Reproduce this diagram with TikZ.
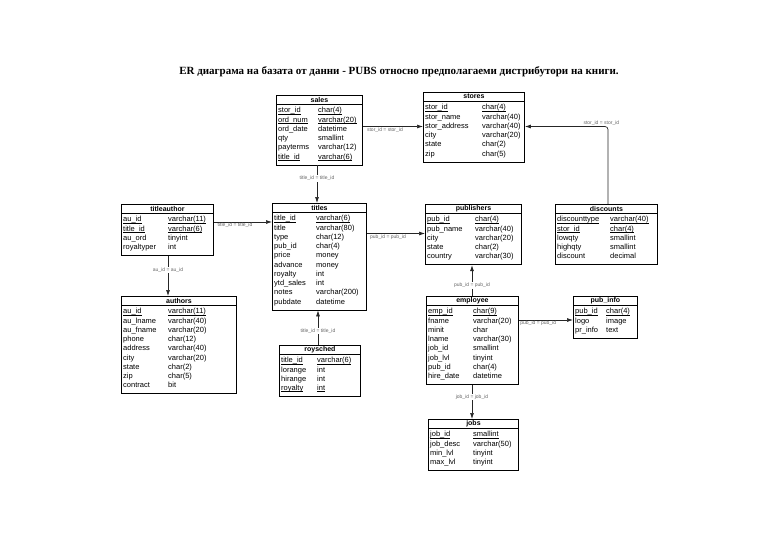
\documentclass[tikz,border=0pt]{standalone}
\usepackage{fontspec}
\setmainfont{Liberation Sans}
\newfontfamily\titlefont{Liberation Serif}
\usetikzlibrary{calc,arrows.meta}
\tikzset{
  tbl/.style={draw=black, line width=0.9pt, fill=white, inner sep=0pt, rectangle},
  hdr/.style={font=\fontsize{7}{8}\selectfont\bfseries, inner sep=0pt},
  rowtxt/.style={font=\fontsize{7.5}{8}\selectfont, inner sep=0pt, anchor=base west},
  tblline/.style={line width=0.7pt},
  conn/.style={draw=black!85, line width=0.7pt, -{Latex[length=6pt,width=4pt]}},
  rlab/.style={font=\fontsize{5}{6}\selectfont, text=black!60, inner sep=1pt},
  vlab/.style={rlab, fill=white},
}
\newcommand\pkul[1]{\setbox0\hbox{#1}\rlap{\rule[-1.4pt]{\wd0}{0.5pt}}\box0}
\newcommand\ertable[8]{%
  \pgfmathsetmacro\erh{14+9.25*#5}%
  \node[tbl, minimum width=#4pt, minimum height=\erh pt, anchor=north west] (#1) at (#2,#3) {};
  \node[hdr] (#1-h) at ($(#1.north)+(0,-4.6pt)$) {#7};
  \draw[tblline] ($(#1.north west)+(0,-9pt)$) -- ($(#1.north east)+(0,-9pt)$);
  \foreach \nm/\ty/\pk [count=\i] in {#8} {
    \node[rowtxt] (#1-n\i) at ($(#1.north west)+(2pt,{-(17.8+9.25*(\i-1))*1pt})$)
      {\ifnum\pk=1 \pkul{\nm}\else\nm\fi};
    \node[rowtxt] (#1-t\i) at ($(#1.north west)+(#6pt,{-(17.8+9.25*(\i-1))*1pt})$)
      {\ifnum\pk=1 \pkul{\ty}\else\ty\fi};
  }
}
\begin{document}
\begin{tikzpicture}[x=1pt,y=-1pt]
\fill[white] (0,0) rectangle (768,543);
\useasboundingbox (0,0) rectangle (768,543);

\node[font=\titlefont\bfseries\fontsize{11}{13}\selectfont, inner sep=0pt] (title) at (399,72)
  {ER диаграма на базата от данни - PUBS относно предполагаеми дистрибутори на книги.};

\ertable{sales}{276}{95}{86}{6}{42}{sales}{stor\_id/char(4)/1, ord\_num/varchar(20)/1, ord\_date/datetime/0, qty/smallint/0, payterms/varchar(12)/0, title\_id/varchar(6)/1}
\ertable{stores}{423}{92}{101}{6}{59}{stores}{stor\_id/char(4)/1, stor\_name/varchar(40)/0, stor\_address/varchar(40)/0, city/varchar(20)/0, state/char(2)/0, zip/char(5)/0}
\ertable{titleauthor}{121}{204}{92}{4}{47}{titleauthor}{au\_id/varchar(11)/1, title\_id/varchar(6)/1, au\_ord/tinyint/0, royaltyper/int/0}
\ertable{titles}{272}{203}{94}{10}{44}{titles}{title\_id/varchar(6)/1, title/varchar(80)/0, type/char(12)/0, pub\_id/char(4)/0, price/money/0, advance/money/0, royalty/int/0, ytd\_sales/int/0, notes/varchar(200)/0, pubdate/datetime/0}
\ertable{publishers}{425}{204}{96}{5}{50}{publishers}{pub\_id/char(4)/1, pub\_name/varchar(40)/0, city/varchar(20)/0, state/char(2)/0, country/varchar(30)/0}
\ertable{discounts}{555}{204}{102}{5}{55}{discounts}{discounttype/varchar(40)/1, stor\_id/char(4)/1, lowqty/smallint/0, highqty/smallint/0, discount/decimal/0}
\ertable{authors}{121}{296}{115}{9}{47}{authors}{au\_id/varchar(11)/1, au\_lname/varchar(40)/0, au\_fname/varchar(20)/0, phone/char(12)/0, address/varchar(40)/0, city/varchar(20)/0, state/char(2)/0, zip/char(5)/0, contract/bit/0}
\ertable{roysched}{279}{345}{81}{4}{38}{roysched}{title\_id/varchar(6)/1, lorange/int/0, hirange/int/0, royalty/int/1}
\ertable{employee}{426}{296}{92}{8}{47}{employee}{emp\_id/char(9)/1, fname/varchar(20)/0, minit/char/0, lname/varchar(30)/0, job\_id/smallint/0, job\_lvl/tinyint/0, pub\_id/char(4)/0, hire\_date/datetime/0}
\ertable{pubinfo}{573}{296}{64}{3}{33}{pub\_info}{pub\_id/char(4)/1, logo/image/0, pr\_info/text/0}
\ertable{jobs}{428}{419}{90}{4}{45}{jobs}{job\_id/smallint/1, job\_desc/varchar(50)/0, min\_lvl/tinyint/0, max\_lvl/tinyint/0}

% connectors
\draw[conn] (sales.east |- 0,126.5) -- node[rlab, below, xshift=-5pt, pos=0.45] {stor\_id = stor\_id} (stores.west |- 0,126.5);
\coordinate (dcorner) at (608,126.5);
\draw[conn, rounded corners=3pt] (discounts.north -| dcorner) -- (dcorner) -- node[rlab, above, pos=0.08] {stor\_id = stor\_id} (stores.east |- dcorner);
\draw[conn] (sales.south -| 317,0) -- node[vlab, pos=0.35] {title\_id = title\_id} (titles.north -| 317,0);
\draw[conn] (titleauthor.east |- 0,222) -- node[rlab, below, xshift=-5pt, pos=0.45] {title\_id = title\_id} (titles.west |- 0,222);
\draw[conn] (titleauthor.south -| 168,0) -- node[vlab, pos=0.35] {au\_id = au\_id} (authors.north -| 168,0);
\draw[conn] (titles.east |- 0,233.5) -- node[rlab, below, xshift=-5pt, pos=0.45] {pub\_id = pub\_id} (publishers.west |- 0,233.5);
\draw[conn] (roysched.north -| 318,0) -- node[vlab, pos=0.4] {title\_id = title\_id} (titles.south -| 318,0);
\draw[conn] (employee.north -| 472,0) -- node[vlab, pos=0.35] {pub\_id = pub\_id} (publishers.south -| 472,0);
\draw[conn] (employee.east |- 0,320) -- node[rlab, below, xshift=-5pt, pos=0.45] {pub\_id = pub\_id} (pubinfo.west |- 0,320);
\draw[conn] (employee.south -| 472,0) -- node[vlab, pos=0.35] {job\_id = job\_id} (jobs.north -| 472,0);
\end{tikzpicture}
\end{document}
